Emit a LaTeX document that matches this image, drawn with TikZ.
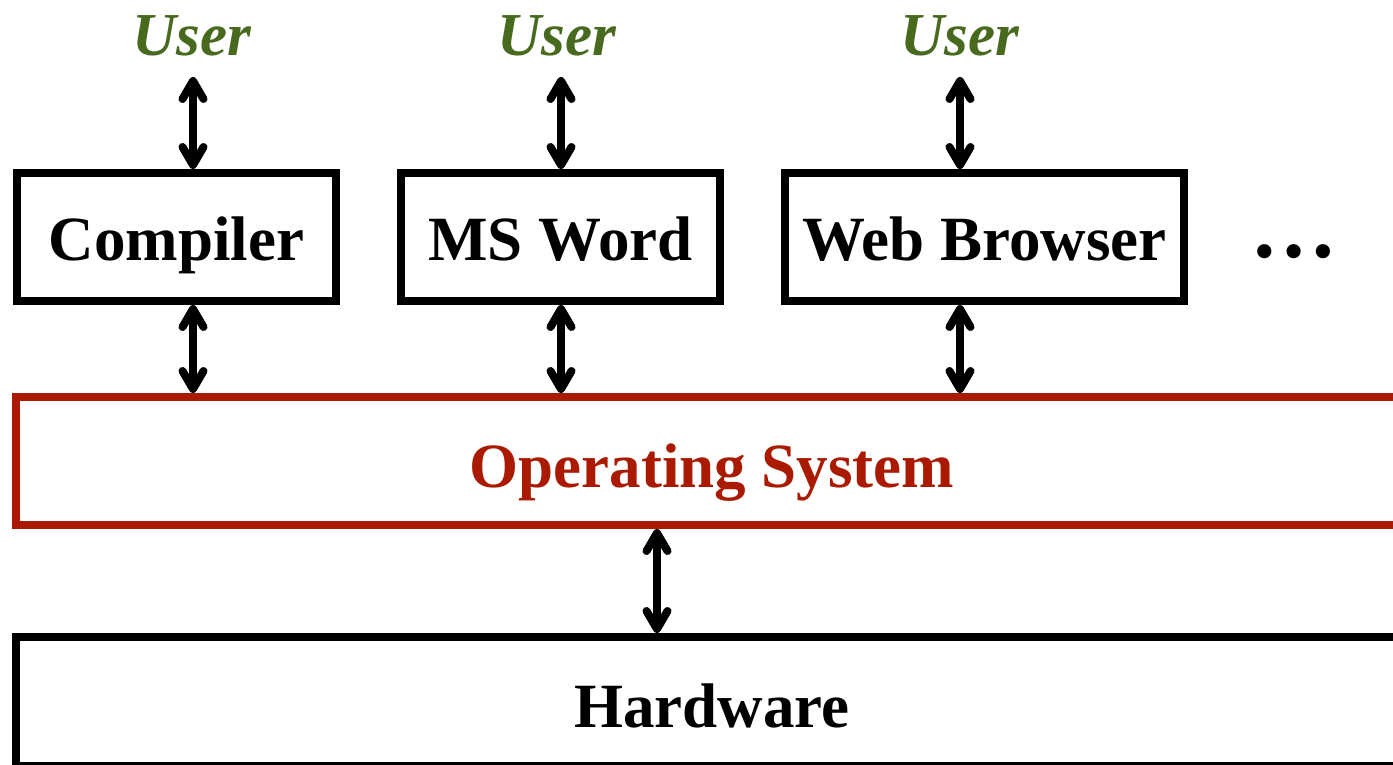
\documentclass[tikz,border=0pt]{standalone}
\usepackage{fontspec}
\setmainfont{Liberation Serif}
\usetikzlibrary{arrows.meta}
\definecolor{usergreen}{RGB}{72,106,30}
\definecolor{osred}{RGB}{170,26,0}
\begin{document}
\begin{tikzpicture}[x=1pt,y=-1pt,
  bigfont/.style={font=\fontsize{63}{70}\selectfont\bfseries},
  appbox/.style={draw, line width=8pt, inner sep=0pt, minimum height=128pt, bigfont, text height=46pt, text depth=0pt},
  layerbox/.style={draw, line width=8pt, inner sep=0pt, minimum width=1392pt, bigfont, text height=52pt, text depth=0pt},
  usertext/.style={anchor=base, inner sep=0pt, text=usergreen, font=\fontsize{61}{70}\selectfont\bfseries\itshape},
  dar/.style={line width=8pt, {Straight Barb[length=18pt,width=21pt,round]}-{Straight Barb[length=18pt,width=21pt,round]}}
]
\useasboundingbox (0,0) rectangle (1393,764);
\clip (0,0) rectangle (1393,764);

% application boxes
\node[appbox, minimum width=319pt] (comp) at (176.5,237) {Compiler};
\node[appbox, minimum width=319pt] (word) at (560.5,237) {MS Word};
\node[appbox, minimum width=399pt] (web) at (984.5,237) {Web Browser};
\node[anchor=base, inner sep=0pt, font=\fontsize{87}{90}\selectfont\bfseries] (dots) at (1294,257) {…};

% layers
\node[layerbox, minimum height=128pt, draw=osred, text=osred] (os) at (712,461) {Operating System};
\node[layerbox, minimum height=129pt] (hw) at (712,701.5) {Hardware};

% users
\node[usertext] (u1) at (192,55) {User};
\node[usertext] (u2) at (557,55) {User};
\node[usertext] (u3) at (960,55) {User};

\coordinate (a1) at (193,77);
\coordinate (a2) at (561,77);
\coordinate (a3) at (960,77);
\coordinate (a4) at (657,0);

% arrows user <-> app
\draw[dar] (a1) -- (a1 |- comp.north);
\draw[dar] (a2) -- (a2 |- word.north);
\draw[dar] (a3) -- (a3 |- web.north);

% arrows app <-> OS
\draw[dar] (a1 |- comp.south) -- (a1 |- os.north);
\draw[dar] (a2 |- word.south) -- (a2 |- os.north);
\draw[dar] (a3 |- web.south) -- (a3 |- os.north);

% OS <-> hardware
\draw[dar] (a4 |- os.south) -- (a4 |- hw.north);
\end{tikzpicture}
\end{document}
